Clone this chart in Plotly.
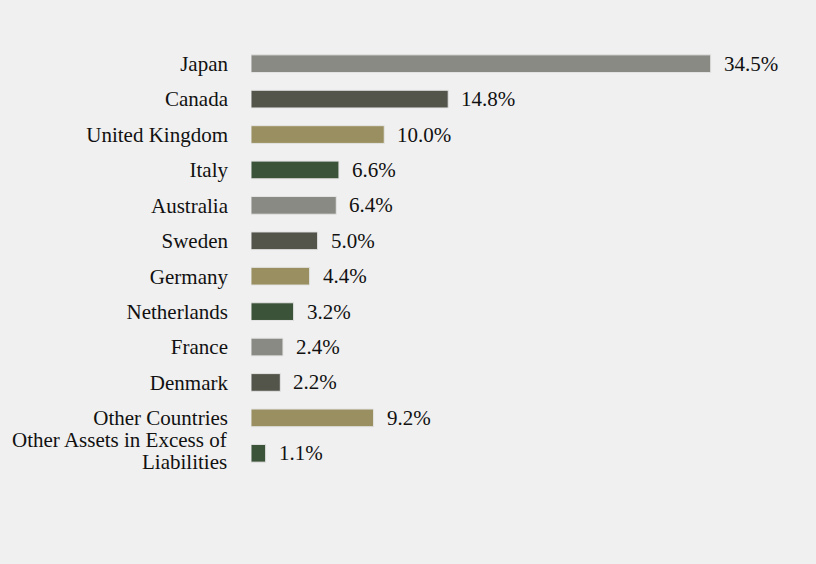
import plotly.graph_objects as go

categories = ["Japan", "Canada", "United Kingdom", "Italy", "Australia", "Sweden",
              "Germany", "Netherlands", "France", "Denmark", "Other Countries",
              "Other Assets in Excess of<br>Liabilities"]
values = [34.5, 14.8, 10.0, 6.6, 6.4, 5.0, 4.4, 3.2, 2.4, 2.2, 9.2, 1.1]
palette = ["#8a8a84", "#53554b", "#9a8f60", "#3b5339"]
colors = [palette[i % 4] for i in range(len(values))]

FONT = "Liberation Serif, Times New Roman, serif"

fig = go.Figure(go.Bar(
    x=values, y=categories, orientation="h",
    marker=dict(color=colors, line=dict(color="#e4e4e4", width=1)),
    hoverinfo="skip",
))

for c, v in zip(categories, values):
    fig.add_annotation(x=v, y=c, text=f"{v:.1f}%", showarrow=False,
                       xanchor="left", xshift=11,
                       font=dict(family=FONT, size=21, color="#111"))

# multi-line labels drawn line by line for tighter line spacing
ticktext = []
for c in categories:
    lines = c.split("<br>")
    if len(lines) == 1:
        ticktext.append(c)
    else:
        ticktext.append("")
        n = len(lines)
        for i, ln in enumerate(lines):
            fig.add_annotation(x=0, xref="paper", y=c, text=ln, showarrow=False,
                               xanchor="right", xshift=-22,
                               yshift=(n - 1) / 2 * 22 - i * 22 + 2,
                               font=dict(family=FONT, size=21, color="#111"))

fig.update_layout(
    width=816, height=564,
    paper_bgcolor="#f0f0f0", plot_bgcolor="#f0f0f0",
    margin=dict(l=251, r=32, t=46, b=93, autoexpand=False),
    bargap=0.5,
    showlegend=False,
    font=dict(family=FONT, size=21, color="#111"),
    xaxis=dict(range=[0, 40], visible=False, fixedrange=True, automargin=False),
    yaxis=dict(range=[len(categories) - 0.5, -0.5], showgrid=False, zeroline=False,
               showline=False, ticks="", ticklabelstandoff=22,
               tickfont=dict(family=FONT, size=21),
               tickmode="array", tickvals=categories, ticktext=ticktext,
               automargin=False, fixedrange=True),
)

fig.write_html("out.html", config={"displayModeBar": False},
               post_script="document.body.style.margin='0';document.body.style.background='#f0f0f0';")
